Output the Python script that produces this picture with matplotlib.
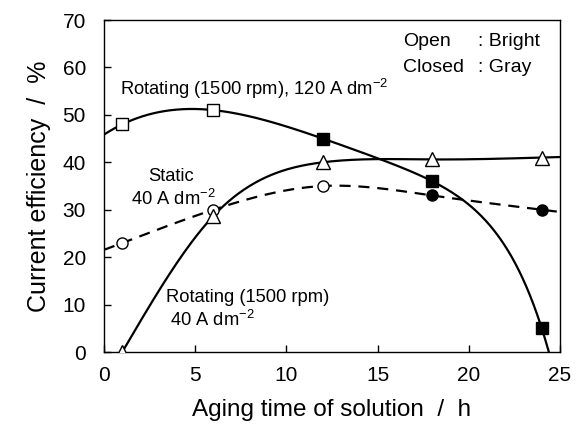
import numpy as np
import matplotlib as mpl
mpl.use('Agg')
import matplotlib.pyplot as plt

plt.rcParams['font.family'] = ['Liberation Sans', 'DejaVu Sans']

# aging time (h) of the measured points
t_hours = [1, 6, 12, 18, 24]

# rotating 1500 rpm, 120 A dm-2 (squares)
rot120 = [48.0, 51.0, 45.0, 36.0, 5.0]
# rotating 1500 rpm, 40 A dm-2 (triangles)
rot40 = [0.0, 28.7, 40.0, 40.6, 41.0]
# static, 40 A dm-2 (circles)
static40 = [23.0, 30.0, 35.0, 33.0, 30.0]

# open = bright deposit, closed = gray deposit
bright_sq = [True, True, False, False, False]
bright_circ = [True, True, True, False, False]

x_ticks = [0, 5, 10, 15, 20, 25]
y_ticks = [0, 10, 20, 30, 40, 50, 60, 70]


# natural cubic spline, extrapolates with the end pieces
def nat_spline(x, y, xs):
	x = np.asarray(x, float)
	y = np.asarray(y, float)
	n = len(x)
	h = np.diff(x)
	A = np.zeros((n, n))
	b = np.zeros(n)
	A[0, 0] = 1
	A[-1, -1] = 1
	for i in range(1, n - 1):
		A[i, i - 1] = h[i - 1]
		A[i, i] = 2 * (h[i - 1] + h[i])
		A[i, i + 1] = h[i]
		b[i] = 6 * ((y[i + 1] - y[i]) / h[i] - (y[i] - y[i - 1]) / h[i - 1])
	M = np.linalg.solve(A, b)
	idx = np.clip(np.searchsorted(x, xs) - 1, 0, n - 2)
	x0, x1 = x[idx], x[idx + 1]
	hh = x1 - x0
	a = (x1 - xs) / hh
	c = (xs - x0) / hh
	return (a * y[idx] + c * y[idx + 1]
		+ ((a ** 3 - a) * M[idx] + (c ** 3 - c) * M[idx + 1]) * hh ** 2 / 6)


# cubic + exponential drop, goes through every point
def cub_exp(x, y, xs, k=0.3):
	x = np.asarray(x, float)
	B = np.column_stack([np.ones_like(x), x, x ** 2, x ** 3, np.exp(k * x)])
	coef = np.linalg.solve(B, np.asarray(y, float))
	Bs = np.column_stack([np.ones_like(xs), xs, xs ** 2, xs ** 3, np.exp(k * xs)])
	return Bs @ coef


t = np.array(t_hours, float)
xs_full = np.linspace(0, 25, 500)
xs_tri = np.linspace(1, 25, 400)

sq_curve = cub_exp(t, rot120, xs_full)
tri_curve = nat_spline(t, rot40, xs_tri)
circ_curve = nat_spline(t, static40, xs_full)

fig = plt.figure(figsize=(5.82, 4.34), dpi=100)
ax = fig.add_axes([0.1787, 0.1889, 0.7835, 0.765])

ax.plot(xs_full, sq_curve, color='black', lw=1.6, zorder=2)
ax.plot(xs_tri, tri_curve, color='black', lw=1.6, zorder=2)
ax.plot(xs_full, circ_curve, color='black', lw=1.6, ls=(0, (5, 3.5)), zorder=2)

for xi, yi, op in zip(t_hours, rot120, bright_sq):
	ax.plot(xi, yi, 's', ms=8, mec='black', mew=1.0,
		mfc='white' if op else 'black', zorder=4)
for xi, yi, op in zip(t_hours, static40, bright_circ):
	ax.plot(xi, yi, 'o', ms=8, mec='black', mew=1.0,
		mfc='white' if op else 'black', zorder=3)
ax.plot(t_hours, rot40, '^', ms=9.5, mec='black', mew=1.0, mfc='white',
	ls='none', zorder=4)

ax.set_xlim(0, 25)
ax.set_ylim(0, 70)
ax.set_xticks(x_ticks)
ax.set_yticks(y_ticks)
ax.tick_params(direction='in', length=5, width=1, labelsize=15)
ax.tick_params(axis='x', pad=10)
ax.tick_params(axis='y', pad=13)
for s in ax.spines.values():
	s.set_linewidth(1.0)

ax.set_xlabel('Aging time of solution  /  h', fontsize=17.5, labelpad=10)
ax.set_ylabel('Current efficiency  /  %', fontsize=18, labelpad=8)

fs = 13.2
ax.text(0.9, 55.5, 'Rotating (1500 rpm), 120 A dm$^{\\mathregular{-2}}$',
	fontsize=fs, va='center', ha='left')
ax.text(3.7, 37.0, 'Static', fontsize=fs, va='center', ha='center')
ax.text(3.8, 32.3, '40 A dm$^{\\mathregular{-2}}$', fontsize=fs, va='center', ha='center')
ax.text(3.4, 11.5, 'Rotating (1500 rpm)', fontsize=fs, va='center', ha='left')
ax.text(3.6, 6.8, '40 A dm$^{\\mathregular{-2}}$', fontsize=fs, va='center', ha='left')

ax.text(16.4, 65.5, 'Open', fontsize=14, va='center', ha='left')
ax.text(20.5, 65.5, ': Bright', fontsize=14, va='center', ha='left')
ax.text(16.4, 60.0, 'Closed', fontsize=14, va='center', ha='left')
ax.text(20.5, 60.0, ': Gray', fontsize=14, va='center', ha='left')

fig.savefig('out.png', dpi=100)
